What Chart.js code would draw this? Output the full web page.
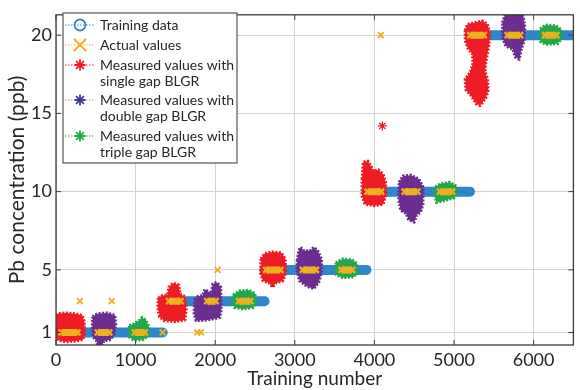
<!DOCTYPE html>
<html>
<head>
<meta charset="utf-8">
<script src="https://cdn.jsdelivr.net/npm/chart.js@4/dist/chart.umd.min.js"></script>
<style>
  html, body { margin: 0; padding: 0; background: #fff; }
  #wrap { width: 580px; height: 390px; }
</style>
</head>
<body>
<div id="wrap"><canvas id="chart" width="580" height="390"></canvas></div>
<script>
// axis ticks
const xTicks = [0, 1000, 2000, 3000, 4000, 5000, 6000];
const yTicks = [1, 5, 10, 15, 20];

// training runs: one concentration level per run
const levels = [1, 3, 5, 10, 20];
const trainStart = [0, 1340, 2620, 3900, 5200];
const trainEnd = [1340, 2620, 3900, 5200, 6500];

// actual values under each measured block [first, last] per level
const actualSingle = [[70, 270], [1420, 1565], [2640, 2820], [3915, 4085], [5205, 5375]];
const actualDouble = [[525, 670], [1900, 2005], [3100, 3265], [4380, 4540], [5675, 5830]];
const actualTriple = [[990, 1115], [2300, 2440], [3585, 3720], [4825, 4975], [6145, 6285]];
const actualStray = [
  { x: 300, y: 3 }, { x: 700, y: 3 }, { x: 1340, y: 1 }, { x: 1775, y: 1 },
  { x: 1820, y: 1 }, { x: 2030, y: 5 }, { x: 4080, y: 20 }
];
const singleStray = [{ x: 4100, y: 14.2 }];

// outline of each measured block [training number, ppb]
const singleGap = [
  [[-20, 1.9], [20, 2.2], [120, 2.25], [230, 2.2], [330, 2.1], [355, 1.7], [360, 1.0], [340, 0.55], [250, 0.45], [120, 0.4], [30, 0.5], [-20, 0.8]],
  [[1285, 3.2], [1330, 3.35], [1400, 3.4], [1420, 3.9], [1470, 4.15], [1540, 4.05], [1560, 3.45], [1620, 3.3], [1635, 2.5], [1620, 1.8], [1500, 1.7], [1360, 1.75], [1300, 2.0], [1280, 2.6]],
  [[2575, 5.7], [2620, 6.05], [2720, 6.15], [2830, 6.1], [2880, 5.7], [2885, 4.8], [2850, 4.3], [2760, 4.15], [2720, 3.9], [2680, 4.15], [2600, 4.3], [2570, 4.8]],
  [[3845, 10.8], [3860, 11.9], [3920, 11.95], [3960, 11.6], [3990, 11.3], [4050, 11.4], [4110, 11.1], [4140, 10.6], [4145, 9.8], [4110, 9.2], [4000, 9.1], [3880, 9.2], [3845, 9.7]],
  [[5140, 20.3], [5170, 20.7], [5260, 20.8], [5360, 20.9], [5420, 20.7], [5450, 20.1], [5440, 19.4], [5420, 18.8], [5400, 18.3], [5390, 17.7], [5420, 17.2], [5430, 16.5], [5400, 16.0], [5330, 15.5], [5280, 15.6], [5220, 16.1], [5150, 16.5], [5140, 17.2], [5200, 17.6], [5240, 18.2], [5230, 18.8], [5170, 19.2], [5140, 19.7]]
];
const doubleGap = [
  [[460, 2.0], [520, 2.2], [640, 2.25], [740, 2.1], [750, 1.5], [730, 0.9], [690, 0.55], [600, 0.45], [570, 0.0], [530, 0.0], [510, 0.45], [470, 0.7], [455, 1.3]],
  [[1740, 3.1], [1780, 3.3], [1840, 3.35], [1870, 3.75], [1920, 3.6], [1950, 3.5], [1970, 4.1], [2020, 4.2], [2070, 3.9], [2075, 2.5], [2060, 1.95], [1900, 1.8], [1760, 1.75], [1735, 2.2]],
  [[3030, 5.6], [3050, 6.2], [3070, 6.45], [3120, 6.2], [3200, 6.25], [3240, 6.45], [3290, 6.2], [3335, 5.7], [3335, 4.8], [3300, 4.2], [3240, 3.8], [3150, 3.95], [3060, 4.3], [3025, 5.0]],
  [[4310, 10.6], [4360, 11.0], [4460, 11.05], [4560, 10.8], [4610, 10.3], [4610, 9.2], [4580, 8.7], [4530, 8.5], [4500, 8.05], [4430, 8.2], [4400, 8.6], [4330, 8.8], [4305, 9.5]],
  [[5610, 20.8], [5640, 21.3], [5720, 21.6], [5800, 21.5], [5870, 21.2], [5890, 20.5], [5880, 19.6], [5850, 19.2], [5820, 18.45], [5770, 18.6], [5740, 19.1], [5650, 19.3], [5612, 19.8]]
];
const tripleGap = [
  [[920, 1.45], [980, 1.55], [1040, 1.75], [1080, 1.95], [1130, 1.8], [1165, 1.4], [1160, 0.8], [1100, 0.55], [980, 0.5], [925, 0.7]],
  [[2225, 3.4], [2300, 3.65], [2420, 3.7], [2500, 3.5], [2510, 2.9], [2480, 2.6], [2350, 2.5], [2240, 2.6], [2220, 3.0]],
  [[3515, 5.45], [3600, 5.7], [3720, 5.65], [3780, 5.4], [3785, 4.85], [3740, 4.55], [3600, 4.5], [3520, 4.7]],
  [[4765, 10.3], [4830, 10.5], [4950, 10.6], [5030, 10.35], [5035, 9.9], [5000, 9.6], [4860, 9.4], [4780, 9.3], [4760, 9.7]],
  [[6080, 20.4], [6150, 20.65], [6280, 20.6], [6350, 20.35], [6355, 19.8], [6300, 19.45], [6150, 19.4], [6085, 19.6]]
];

const legendLabels = [
  ["Training data"],
  ["Actual values"],
  ["Measured values with", "single gap BLGR"],
  ["Measured values with", "double gap BLGR"],
  ["Measured values with", "triple gap BLGR"]
];

const BLUE = "#2f86c8";
const ORANGE = "#edb120";
const RED = "#ee1d25";
const PURPLE = "#6b2d8f";
const GREEN = "#22a84a";
const FONT = "Lato";

const datasets = [];

// blue training band
levels.forEach((lv, i) => {
  datasets.push({
    data: [{ x: trainStart[i], y: lv }, { x: trainEnd[i], y: lv }],
    showLine: true, borderColor: BLUE, borderWidth: 10, borderCapStyle: "round",
    pointRadius: 0, order: 3
  });
});

// measured blocks
function addBlocks(list, color) {
  list.forEach(poly => {
    const pts = poly.map(p => ({ x: p[0], y: p[1] }));
    pts.push(pts[0]);
    datasets.push({
      data: pts, showLine: true, fill: "shape", backgroundColor: color,
      borderColor: color, borderWidth: 3, borderDash: [2, 1.5], borderJoinStyle: "round",
      pointRadius: 0, tension: 0, order: 2
    });
  });
}
addBlocks(singleGap, RED);
addBlocks(doubleGap, PURPLE);
addBlocks(tripleGap, GREEN);

// orange actual values on top
[actualSingle, actualDouble, actualTriple].forEach(list => {
  list.forEach((run, i) => {
    datasets.push({
      data: [{ x: run[0], y: levels[i] }, { x: run[1], y: levels[i] }],
      showLine: true, borderColor: ORANGE, borderWidth: 7, borderCapStyle: "butt",
      pointStyle: "crossRot", pointRadius: 4.2, pointBorderWidth: 2.4,
      pointBorderColor: ORANGE, order: 1
    });
  });
});
datasets.push({
  data: actualStray, showLine: false, pointStyle: "crossRot", pointRadius: 4.2,
  pointBorderWidth: 1.8, pointBorderColor: ORANGE, order: 0
});
datasets.push({
  data: singleStray, showLine: false, pointStyle: "star", pointRadius: 4.5,
  pointBorderWidth: 1.3, pointBorderColor: RED, order: 0
});

// box with inward tick marks
const boxPlugin = {
  id: "box",
  afterDatasetsDraw(chart) {
    const { ctx, chartArea: a, scales: { x, y } } = chart;
    ctx.save();
    ctx.strokeStyle = "#3c3c3c";
    ctx.lineWidth = 1.3;
    ctx.strokeRect(a.left, a.top, a.right - a.left, a.bottom - a.top);
    ctx.lineWidth = 1;
    ctx.beginPath();
    xTicks.forEach(v => {
      const px = x.getPixelForValue(v);
      ctx.moveTo(px, a.bottom); ctx.lineTo(px, a.bottom - 5);
      ctx.moveTo(px, a.top); ctx.lineTo(px, a.top + 5);
    });
    yTicks.forEach(v => {
      const py = y.getPixelForValue(v);
      ctx.moveTo(a.left, py); ctx.lineTo(a.left + 5, py);
      ctx.moveTo(a.right, py); ctx.lineTo(a.right - 5, py);
    });
    ctx.stroke();
    ctx.restore();
  }
};

// legend box in the upper left
const legendPlugin = {
  id: "boxLegend",
  afterDraw(chart) {
    const ctx = chart.ctx;
    const L = 63, T = 13, W = 174, H = 150;
    ctx.save();
    ctx.fillStyle = "#fff";
    ctx.fillRect(L, T, W, H);
    ctx.strokeStyle = "#555";
    ctx.lineWidth = 1.2;
    ctx.strokeRect(L, T, W, H);

    const rows = [25, 45, 65, 100, 136];
    const lineColors = [BLUE, ORANGE, RED, "#e9825a", GREEN];
    const markColors = [BLUE, ORANGE, RED, "#3f3a96", GREEN];
    const mx = 80;
    rows.forEach((ry, i) => {
      ctx.strokeStyle = lineColors[i];
      ctx.lineWidth = 1;
      ctx.setLineDash([1.5, 1.5]);
      ctx.beginPath();
      ctx.moveTo(L + 2, ry); ctx.lineTo(L + 32, ry);
      ctx.stroke();
      ctx.setLineDash([]);
      ctx.strokeStyle = markColors[i];
      ctx.lineWidth = 1.8;
      ctx.beginPath();
      if (i === 0) {
        ctx.arc(mx, ry, 5.5, 0, Math.PI * 2);
      } else if (i === 1) {
        ctx.moveTo(mx - 6, ry - 6); ctx.lineTo(mx + 6, ry + 6);
        ctx.moveTo(mx - 6, ry + 6); ctx.lineTo(mx + 6, ry - 6);
      } else {
        for (let k = 0; k < 4; k++) {
          const ang = k * Math.PI / 4;
          const dx = Math.cos(ang) * 5.5, dy = Math.sin(ang) * 5.5;
          ctx.moveTo(mx - dx, ry - dy); ctx.lineTo(mx + dx, ry + dy);
        }
      }
      ctx.stroke();

      ctx.fillStyle = "#262626";
      ctx.font = "14px " + FONT;
      ctx.textBaseline = "middle";
      legendLabels[i].forEach((t, j) => ctx.fillText(t, 100, ry + j * 16));
    });
    ctx.restore();
  }
};

new Chart(document.getElementById("chart"), {
  type: "scatter",
  data: { datasets },
  options: {
    responsive: false,
    animation: false,
    devicePixelRatio: 1,
    layout: { padding: { top: 6, right: 1, left: 0, bottom: 0 } },
    plugins: { legend: { display: false }, tooltip: { enabled: false } },
    scales: {
      x: {
        type: "linear", min: 0, max: 6500,
        afterBuildTicks: s => { s.ticks = xTicks.map(v => ({ value: v })); },
        afterFit: s => { s.height = 45; },
        grid: { color: "#d2d2d2", drawTicks: false },
        border: { display: false },
        ticks: { font: { family: FONT, size: 18 }, color: "#262626", padding: 4, maxRotation: 0, callback: v => String(v) },
        title: { display: true, text: "Training number", font: { family: FONT, size: 19 }, color: "#262626", padding: { top: 0, bottom: 0 } }
      },
      y: {
        type: "linear", min: 0.2, max: 21.3,
        afterBuildTicks: s => { s.ticks = yTicks.map(v => ({ value: v })); },
        afterFit: s => { s.width = 56; },
        grid: { color: "#d2d2d2", drawTicks: false },
        border: { display: false },
        ticks: { font: { family: FONT, size: 18 }, color: "#262626", padding: 4, callback: v => String(v) },
        title: { display: true, text: "Pb concentration (ppb)", font: { family: FONT, size: 21 }, color: "#262626", padding: { top: 5, bottom: 0 } }
      }
    }
  },
  plugins: [boxPlugin, legendPlugin]
});
</script>
</body>
</html>
